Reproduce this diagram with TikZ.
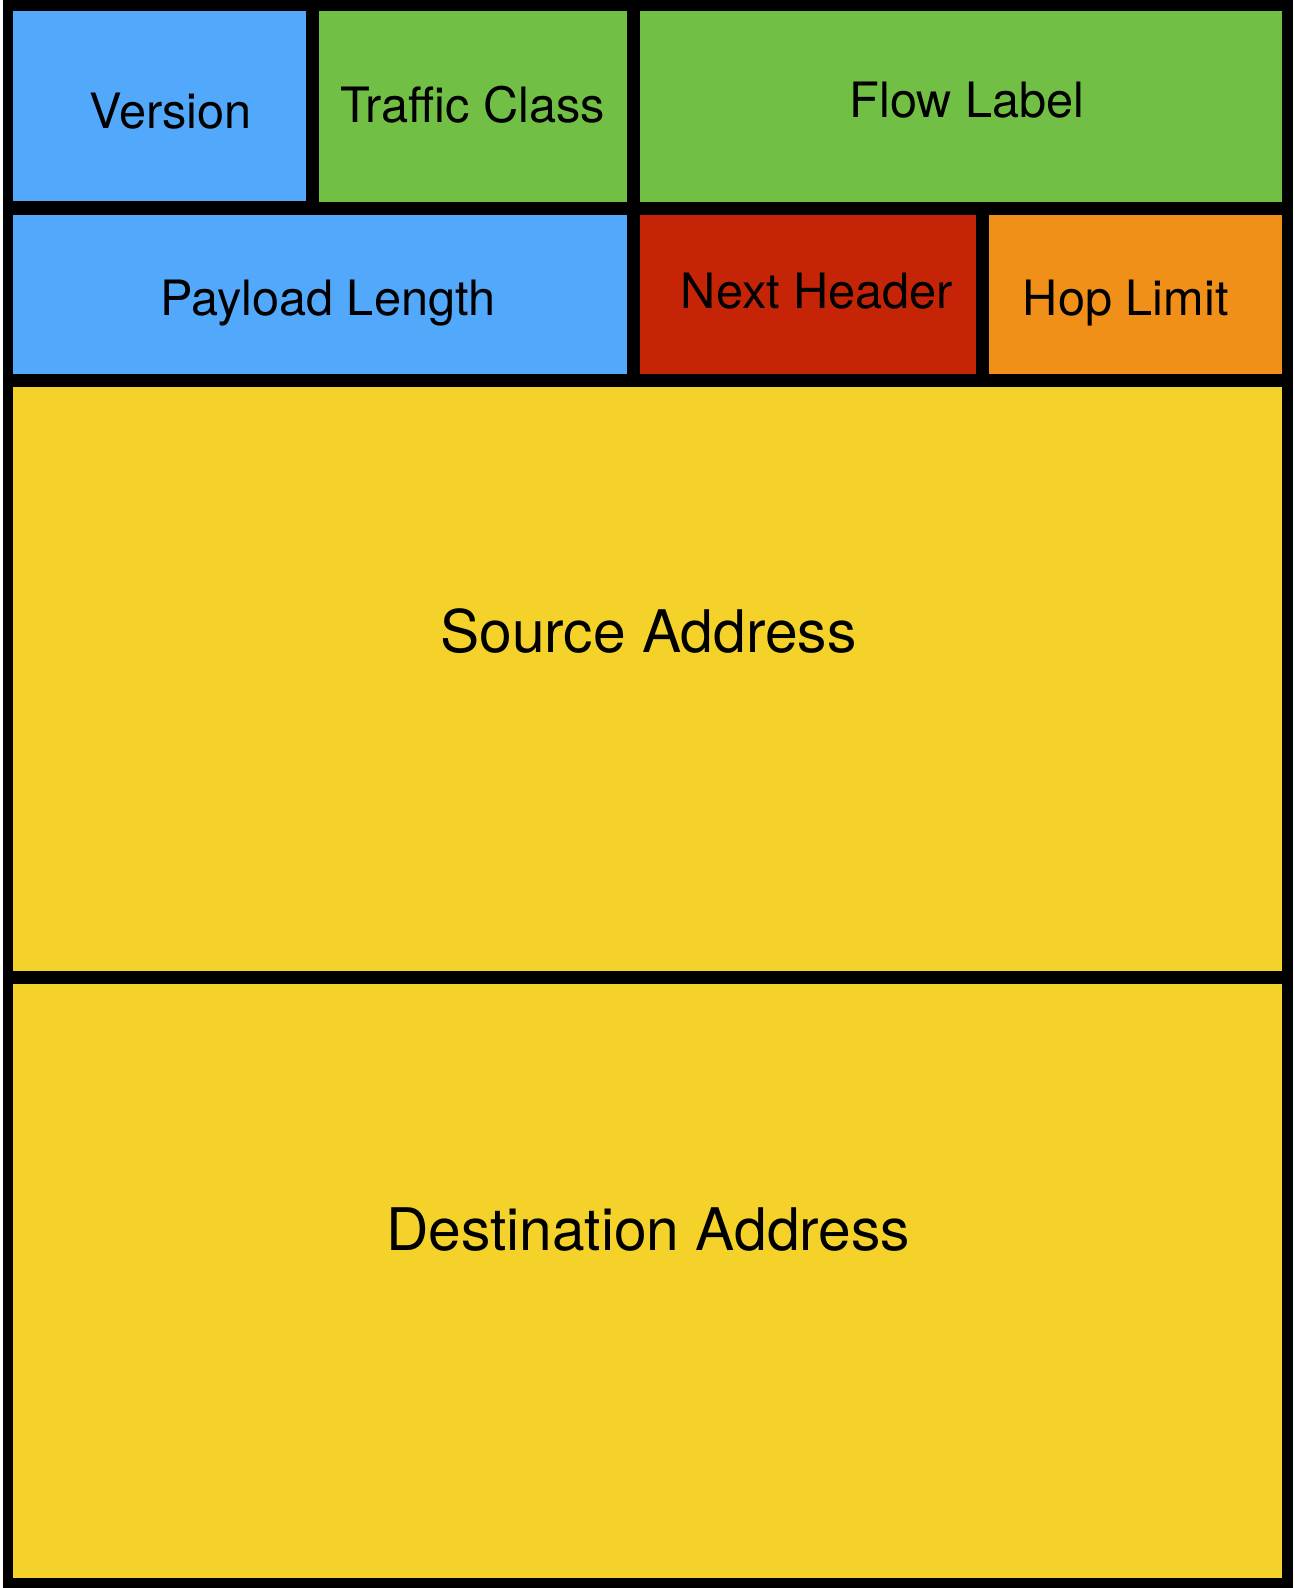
\documentclass[tikz,border=0pt]{standalone}
\usepackage{fontspec}
\setmainfont{TeX Gyre Heros}
\usepackage{xcolor}
\usepackage{tikz}
\usetikzlibrary{positioning}

\definecolor{ipblue}{RGB}{82,168,251}
\definecolor{ipgreen}{RGB}{113,191,68}
\definecolor{ipred}{RGB}{197,36,6}
\definecolor{iporange}{RGB}{240,144,25}
\definecolor{ipyellow}{RGB}{245,210,42}

\tikzset{
    field/.style={fill=#1, rectangle, inner sep=0pt, outer sep=0pt, anchor=north west},
    fieldtext/.style={inner sep=0pt, text height=35pt, text depth=0pt, font=\fontsize{48.7}{58}\selectfont},
    addrtext/.style={inner sep=0pt, text height=42pt, text depth=0pt, font=\fontsize{58.7}{70}\selectfont}
}

\begin{document}
\begin{tikzpicture}[x=1pt, y=-1pt]
    \useasboundingbox (0,0) rectangle (1294,1588);
    \fill[black] (3,0) rectangle (1293,1588);

    % first row
    \node [field=ipblue, minimum width=292.7pt, minimum height=190.3pt,
           label={[fieldtext, xshift=11.2pt, yshift=-4.7pt]center:Version}] (version) at (13,10.7) {};
    \node [field=ipgreen, minimum width=308pt, minimum height=191pt, right=13pt of version.north east, anchor=north west,
           label={[fieldtext, yshift=1.2pt]center:Traffic Class}] (traffic) {};
    \node [field=ipgreen, minimum width=642.3pt, minimum height=191pt, right=13.3pt of traffic.north east, anchor=north west,
           label={[fieldtext, xshift=6.1pt, yshift=6.5pt]center:Flow Label}] (flow) {};

    % second row
    \node [field=ipblue, minimum width=613.7pt, minimum height=159pt, below=14pt of version.south west, anchor=north west,
           label={[fieldtext, xshift=8.2pt, yshift=-3.5pt]center:Payload Length}] (payload) {};
    \node [field=ipred, minimum width=336pt, minimum height=159pt, right=13.3pt of payload.north east, anchor=north west,
           label={[fieldtext, xshift=9pt, yshift=3.2pt]center:Next Header}] (next) {};
    \node [field=iporange, minimum width=293pt, minimum height=159pt, right=13.3pt of next.north east, anchor=north west,
           label={[fieldtext, xshift=-10.1pt, yshift=-3pt]center:Hop Limit}] (hop) {};

    % addresses
    \node [field=ipyellow, minimum width=1269pt, minimum height=583.7pt, below=13.3pt of payload.south west, anchor=north west,
           label={[addrtext, xshift=0.8pt, yshift=47.5pt]center:Source Address}] (source) {};
    \node [field=ipyellow, minimum width=1269pt, minimum height=594pt, below=13.3pt of source.south west, anchor=north west,
           label={[addrtext, xshift=0.5pt, yshift=52.3pt]center:Destination Address}] (dest) {};
\end{tikzpicture}
\end{document}
